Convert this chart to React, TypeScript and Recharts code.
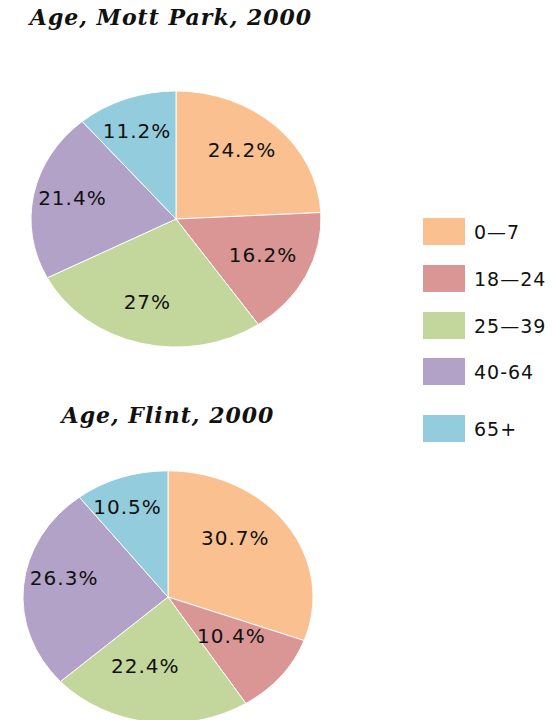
import React from 'react';
import { PieChart, Pie, Cell } from 'recharts';

const categories = ['0\u20147', '18\u201424', '25\u201439', '40-64', '65+'];
const colors = ['#FAC090', '#D99694', '#C3D69B', '#B3A2C7', '#93CDDD'];
const mottParkValues = [24.2, 16.2, 27, 21.4, 11.2];
const flintValues = [30.7, 10.4, 22.4, 26.3, 10.5];
const titles = ['Age, Mott Park, 2000', 'Age, Flint, 2000'];

const toRows = (vals: number[]) => categories.map((name, i) => ({ name, value: vals[i] }));
const RAD = Math.PI / 180;

const makeLabel = (ratio: number, factor: number, sx: number, sy: number) => (props: any) => {
  const { cx, cy, midAngle, outerRadius, value } = props;
  const x = cx + outerRadius * factor * Math.cos(-midAngle * RAD) + sx;
  const y = cy + outerRadius * ratio * factor * Math.sin(-midAngle * RAD) + sy;
  return (
    <text
      x={x}
      y={y}
      textAnchor="middle"
      dominantBaseline="central"
      fill="#111"
      style={{ fontFamily: 'DejaVu Sans, Verdana, sans-serif', fontSize: 20, letterSpacing: 1 }}
    >
      {`${value}%`}
    </text>
  );
};

const css = `
.pieTop path.recharts-sector { transform: scaleY(0.883); transform-origin: 176px 219px; }
.pieBottom path.recharts-sector { transform: scaleY(0.87); transform-origin: 168px 237px; }
`;

const titleStyle: React.CSSProperties = {
  fontFamily: 'DejaVu Serif, Georgia, serif',
  fontWeight: 'bold',
  fontStyle: 'italic',
  fontSize: 22,
  letterSpacing: 1,
};

export default function App() {
  const legendTops = [218, 265, 312, 358, 415];
  return (
    <div style={{ position: 'absolute', left: 0, top: 0, width: 552, height: 720, background: '#fff', overflow: 'hidden' }}>
      <style>{css}</style>
      <div className="pieTop" style={{ position: 'absolute', left: 0, top: 0 }}>
        <PieChart width={360} height={380} margin={{ top: 0, right: 0, bottom: 0, left: 0 }}>
          <Pie
            data={toRows(mottParkValues)}
            dataKey="value"
            nameKey="name"
            cx={176}
            cy={219}
            outerRadius={145}
            startAngle={90}
            endAngle={-270}
            stroke="#fff"
            strokeWidth={1}
            labelLine={false}
            label={makeLabel(0.883, 0.7, -4, -4)}
            isAnimationActive={false}
          >
            {categories.map((c, i) => (
              <Cell key={c} fill={colors[i]} />
            ))}
          </Pie>
        </PieChart>
      </div>
      <div className="pieBottom" style={{ position: 'absolute', left: 0, top: 360 }}>
        <PieChart width={360} height={380} margin={{ top: 0, right: 0, bottom: 0, left: 0 }}>
          <Pie
            data={toRows(flintValues)}
            dataKey="value"
            nameKey="name"
            cx={168}
            cy={237}
            outerRadius={145}
            startAngle={90}
            endAngle={-270}
            stroke="#fff"
            strokeWidth={1}
            labelLine={false}
            label={makeLabel(0.87, 0.65, -10, -12)}
            isAnimationActive={false}
          >
            {categories.map((c, i) => (
              <Cell key={c} fill={colors[i]} />
            ))}
          </Pie>
        </PieChart>
      </div>
      <svg width={552} height={720} style={{ position: 'absolute', left: 0, top: 0, pointerEvents: 'none' }}>
        <text x={171} y={25} textAnchor="middle" fill="#111" style={titleStyle}>
          {titles[0]}
        </text>
        <text x={168} y={423} textAnchor="middle" fill="#111" style={titleStyle}>
          {titles[1]}
        </text>
        {categories.map((c, i) => (
          <g key={c}>
            <rect x={423} y={legendTops[i]} width={42} height={27} fill={colors[i]} />
            <text x={474} y={legendTops[i] + 13.5} dominantBaseline="central" fill="#111"
              style={{ fontFamily: 'DejaVu Sans, Verdana, sans-serif', fontSize: 19, letterSpacing: 1 }}>
              {c}
            </text>
          </g>
        ))}
      </svg>
    </div>
  );
}
